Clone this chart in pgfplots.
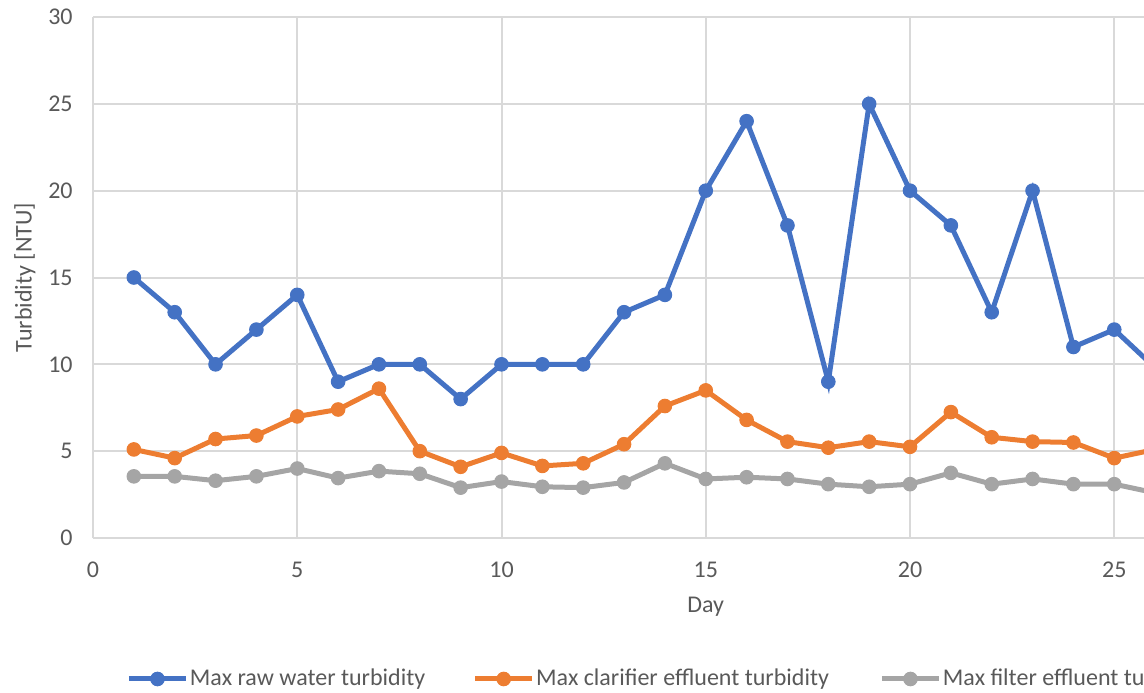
\documentclass[border=0pt]{standalone}
\usepackage{fontspec}
\setmainfont{Carlito}
\usepackage{pgfplots}
\pgfplotsset{compat=1.18}

\definecolor{rawblue}{HTML}{4472C4}
\definecolor{clarorange}{HTML}{ED7D31}
\definecolor{filtgray}{HTML}{A5A5A5}
\definecolor{gridgray}{HTML}{D9D9D9}
\definecolor{labelgray}{HTML}{595959}

\newlength\px
\setlength\px{0.5pt}

\begin{document}
\begin{tikzpicture}
\useasboundingbox (0,0) rectangle (1144\px,692\px);
\clip (0,0) rectangle (1144\px,692\px);
\begin{axis}[
  at={(93\px,154\px)}, anchor=south west,
  scale only axis,
  width=1225.5\px, height=521\px,
  xmin=0, xmax=30, ymin=0, ymax=30,
  xtick={0,5,...,30}, ytick={0,5,...,30},
  major tick length=0pt,
  axis line style={draw=none},
  grid=major,
  major grid style={color=gridgray, line width=1pt},
  font=\fontsize{12}{14}\selectfont,
  /pgf/number format/assume math mode=true,
  tick label style={color=labelgray, font=\fontsize{12}{14}\selectfont},
  yticklabel style={anchor=east, inner sep=0pt, xshift=-20\px},
  xticklabel style={anchor=north, inner sep=0pt, yshift=-24\px},
  xlabel={Day},
  ylabel={Turbidity [NTU]},
  label style={color=labelgray, font=\fontsize{12}{14}\selectfont},
  xlabel style={at={(axis description cs:0.5,-0.1324)}, anchor=center},
  ylabel style={at={(axis description cs:-0.0555,0.5)}, anchor=center, rotate=0},
  every axis plot/.append style={line width=2.5pt, mark=*, mark size=3.4pt},
  legend columns=3,
  legend image code/.code={%
    \draw[mark repeat=2,mark phase=2] plot coordinates {(0pt,0pt) (28.5\px,0pt) (57\px,0pt)};},
  legend style={
    draw=none, fill=none, inner sep=0pt,
    at={(axis description cs:0.0270,-0.2706)}, anchor=west,
    font=\fontsize{12}{14}\selectfont, text=labelgray,
    nodes={inner sep=1.5\px},
    /tikz/column 2/.style={column sep=23pt},
    /tikz/column 4/.style={column sep=24.5pt},
  },
]
\addplot[color=rawblue, mark options={solid, fill=rawblue, draw=rawblue, line width=0.5pt}]
  coordinates {
  (1,15) (2,13) (3,10) (4,12) (5,14) (6,9) (7,10) (8,10) (9,8) (10,10)
  (11,10) (12,10) (13,13) (14,14) (15,20) (16,24) (17,18) (18,9) (19,25) (20,20)
  (21,18) (22,13) (23,20) (24,11) (25,12) (26,9.8)
};
\addlegendentry{Max raw water turbidity}
\addplot[color=clarorange, mark options={solid, fill=clarorange, draw=clarorange, line width=0.5pt}]
  coordinates {
  (1,5.1) (2,4.6) (3,5.7) (4,5.9) (5,7.0) (6,7.4) (7,8.6) (8,5.0) (9,4.1) (10,4.9)
  (11,4.15) (12,4.3) (13,5.4) (14,7.6) (15,8.5) (16,6.8) (17,5.55) (18,5.2) (19,5.55) (20,5.25)
  (21,7.25) (22,5.8) (23,5.55) (24,5.5) (25,4.6) (26,5.1)
};
\addlegendentry{Max clarifier effluent turbidity}
\addplot[color=filtgray, mark options={solid, fill=filtgray, draw=filtgray, line width=0.5pt}]
  coordinates {
  (1,3.55) (2,3.55) (3,3.3) (4,3.55) (5,4.0) (6,3.45) (7,3.85) (8,3.7) (9,2.9) (10,3.25)
  (11,2.95) (12,2.9) (13,3.2) (14,4.3) (15,3.4) (16,3.5) (17,3.4) (18,3.1) (19,2.95) (20,3.1)
  (21,3.75) (22,3.1) (23,3.4) (24,3.1) (25,3.1) (26,2.6)
};
\addlegendentry{Max filter effluent turbidity}
\end{axis}
\end{tikzpicture}
\end{document}
